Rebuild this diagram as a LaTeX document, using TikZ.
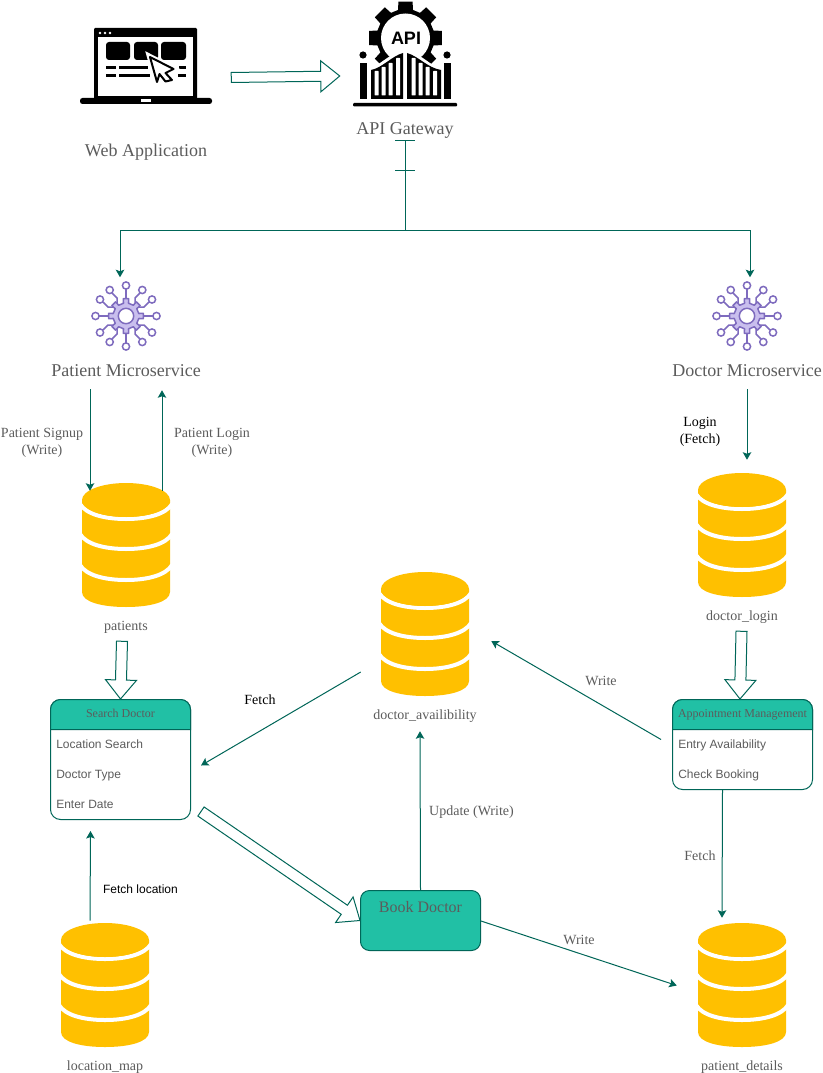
\documentclass[tikz,border=0pt]{standalone}
\usepackage{fontspec}
\setmainfont{Liberation Serif}
\setsansfont{Liberation Sans}
\usetikzlibrary{arrows.meta,calc}
\definecolor{tealline}{HTML}{006658}
\definecolor{tealfill}{HTML}{21C0A5}
\definecolor{greytext}{HTML}{5C5C5C}
\definecolor{dbyellow}{HTML}{FFC000}
\definecolor{msfill}{HTML}{C9BEEE}
\definecolor{msline}{HTML}{7E6BBE}
\def\px{0.75pt}
\tikzset{
  x=0.75pt,y=-0.75pt,
  conn/.style={draw=tealline,line width=1*\px},
  arr/.style={conn,-{Stealth[length=7.5*\px,width=8.5*\px,inset=1.5*\px]}},
  block/.style={draw=tealline,line width=1*\px,fill=white,line join=miter},
  txtbox/.style={inner sep=0pt,text height=0.68em,text depth=0.22em,yshift=-2*\px},
  lbl/.style={txtbox,text=greytext,align=center,font=\fontsize{10.5pt}{12.5pt}\selectfont},
  biglbl/.style={txtbox,yshift=-1*\px,text=greytext,align=center,font=\fontsize{13.5pt}{16pt}\selectfont},
  blacklbl/.style={txtbox,text=black,align=center,font=\fontsize{10.5pt}{12.5pt}\selectfont},
  item/.style={txtbox,yshift=1*\px,anchor=west,text=greytext,font=\sffamily\fontsize{9pt}{11pt}\selectfont},
  hdr/.style={txtbox,yshift=0.5*\px,text=greytext,font=\fontsize{9pt}{11pt}\selectfont},
  dbbox/.style={inner sep=0pt,minimum width=88*\px,minimum height=124*\px},
  lane/.style={draw=tealline,line width=1*\px,fill=white,rounded corners=10*\px,inner sep=0pt,minimum width=140*\px},
}
% database icon: #1 node name, #2 centre x, #3 top y
\newcommand\dbicon[3]{%
  \begin{scope}[shift={(#2,#3)}]
    \fill[dbyellow] (-44,17) -- (-44,109) .. controls (-44,119) and (-24,124) .. (0,124)
       .. controls (24,124) and (44,119) .. (44,109) -- (44,17) -- cycle;
    \foreach \s/\b in {21/36,51/66,82/97}{
      \draw[white,line width=4*\px] (-46,\s) .. controls (-40,\s+10) and (-22,\b) .. (0,\b)
         .. controls (22,\b) and (40,\s+10) .. (46,\s);
    }
    \fill[dbyellow] (0,17) ellipse [x radius=44,y radius=17];
    \node[dbbox] (#1) at (0,62) {};
  \end{scope}}
% microservice icon
\newcommand\msicon[3]{%
  \begin{scope}[shift={(#2,#3)},draw=msline,line width=1.5*\px]
    \foreach \a in {0,90,180,270}{
      \draw[rotate=\a] (14,0) -- (27,0);
      \draw[rotate=\a,fill=white] (30.5,0) circle (3.6);
    }
    \foreach \sx/\sy in {1/1,1/-1,-1/1,-1/-1}{
      \draw (\sx*9,\sy*13) -- (\sx*9,\sy*18) -- (\sx*14,\sy*23);
      \draw[fill=white] (\sx*16.3,\sy*26) circle (3.6);
      \draw (\sx*13,\sy*9) -- (\sx*18,\sy*9) -- (\sx*23,\sy*14);
      \draw[fill=white] (\sx*26,\sy*16.5) circle (3.6);
    }
    \draw[fill=msfill,line join=round] (-11:13)
      \foreach \k in {0,...,7}{ -- (\k*45-11:13) -- (\k*45-8.5:17.5) -- (\k*45+8.5:17.5) -- (\k*45+11:13) } -- cycle;
    \draw[fill=white] (0,0) circle (7.7);
    \node[inner sep=0pt,minimum size=48*\px] (#1) at (0,0) {};
  \end{scope}}
% hollow block arrow: tail, tip, half shaft width, half head width, head length (in px)
\newcommand\blockarrow[5]{%
  \coordinate (hb) at ($(#2)!#5*\px!(#1)$);
  \draw[block] ($(#1)!#3*\px!90:(#2)$) -- ($(hb)!#3*\px!90:(#2)$) -- ($(hb)!#4*\px!90:(#2)$)
     -- (#2) -- ($(hb)!#4*\px!-90:(#2)$) -- ($(hb)!#3*\px!-90:(#2)$) -- ($(#1)!#3*\px!-90:(#2)$) -- cycle;}
\begin{document}
\begin{tikzpicture}
\useasboundingbox[fill=white] (0,0) rectangle (823,1073);

% ---- laptop icon
\fill[black,rounded corners=1.2*\px] (94,28) rectangle (197,100);
\fill[white] (98,37) rectangle (193,96);
\fill[black,rounded corners=2.5*\px] (80,98) rectangle (212,104);
\fill[white] (141,99.5) rectangle (151,102);
\foreach \dx in {100,105,110}{\fill[white] (\dx,33) circle (1.3);}
\fill[black,rounded corners=3*\px] (106,42) rectangle (130,60);
\fill[black,rounded corners=3*\px] (134,42) rectangle (158,60);
\fill[black,rounded corners=3*\px] (161,42) rectangle (186,60);
\fill[black] (106,66) rectangle (116,69);
\fill[black] (119,66) rectangle (148,69);
\fill[black] (179,66) rectangle (186,69);
\fill[black] (106,74) rectangle (116,77);
\fill[black] (119,74) rectangle (150,77);
\fill[black] (178,74) rectangle (186,77);
\draw[black,fill=white,line width=2*\px,line join=round,preaction={draw=white,line width=6*\px}]
  (150,57) -- (173.5,69) -- (165.5,73) -- (172,80) -- (165.5,81.5) -- (159.5,74) -- (157,82) -- cycle;
\node[inner sep=0pt,minimum width=132*\px,minimum height=76*\px] (laptop) at (146,66) {};
\node[biglbl] (webapp) at (146,150) {Web Application};

% ---- API gateway icon
\begin{scope}[shift={(405.5,38)}]
  \fill[black] (-15:29)
    \foreach \k in {0,...,7}{ -- (\k*45-15:29) -- (\k*45-11:37) -- (\k*45+11:37) -- (\k*45+15:29) } -- cycle;
  \fill[white] (0,0) circle (24.5);
  \node[inner sep=0pt,font=\sffamily\bfseries\fontsize{13.5pt}{14pt}\selectfont] at (0.5,0) {API};
\end{scope}
\fill[white] (355,57) -- (374,67) .. controls (385,60) and (395,51) .. (405,50)
   .. controls (415,51) and (425,60) .. (436,67) -- (455,57) -- (455,102) -- (355,102) -- cycle;
\fill[black] (363,55) circle (3.6);
\fill[black] (447,55) circle (3.6);
\fill[black] (360,63) rectangle (367,99);
\fill[black] (443.5,63) rectangle (450.5,99);
\fill[black] (371,99) -- (371,70) .. controls (382,68) and (392,56) .. (403,53) -- (403,99) -- cycle;
\fill[black] (407,99) -- (407,53) .. controls (418,56) and (428,68) .. (441,70) -- (441,99) -- cycle;
\foreach \xa/\ya in {374.5/71,381.5/67,388.5/63,396/58}{\fill[white,rounded corners=0.5*\px] (\xa,\ya) rectangle (\xa+4,95.5);}
\foreach \xa/\ya in {411.5/58,418.5/63,425.5/67,433/71}{\fill[white,rounded corners=0.5*\px] (\xa,\ya) rectangle (\xa+4,95.5);}
\fill[black,rounded corners=1*\px] (353,103) rectangle (457,106.5);
\node[inner sep=0pt,minimum width=104*\px,minimum height=104*\px] (gateway) at (405,55) {};
\node[biglbl] (gwlabel) at (405,128) {API Gateway};

% ---- block arrow web app -> gateway
\coordinate (ba1s) at ($(laptop.east)+(19,11.5)$);
\coordinate (ba1e) at ($(gateway.west)+(-13,21)$);
\blockarrow{ba1s}{ba1e}{5}{15.5}{19}

% ---- gateway split
\coordinate (split) at ($(gwlabel.south)+(0,93)$);
\msicon{pms}{126}{316}
\msicon{dms}{747}{316}
\coordinate (ptop) at ($(pms.north)+(-6,-14)$);
\coordinate (dtop) at ($(dms.north)+(3,-14)$);
\draw[conn] ($(gwlabel.south)+(0,3)$) coordinate (gstart) -- (split);
\draw[conn] ($(gstart)+(-10,0)$) -- ($(gstart)+(10,0)$);
\draw[conn] ($(gstart)+(-10,30)$) -- ($(gstart)+(10,30)$);
\draw[arr] (split) -| (ptop);
\draw[arr] (split) -| (dtop);

\node[biglbl] (pmslabel) at (126,370) {Patient Microservice};
\node[biglbl] (dmslabel) at (747,370) {Doctor Microservice};

% ---- databases
\dbicon{dbpatients}{126}{483}
\dbicon{dblogin}{742}{473}
\dbicon{dbavail}{425}{572}
\dbicon{dbloc}{105}{923}
\dbicon{dbdetails}{742}{923}
\node[lbl] (lpatients) at (126,625) {patients};
\node[lbl] (llogin) at (742,615) {doctor\_login};
\node[lbl] (lavail) at (425,714) {doctor\_availibility};
\node[lbl] (lloc) at (105,1065) {location\_map};
\node[lbl] (ldetails) at (742,1065) {patient\_details};

% ---- search doctor lane
\node[lane,minimum height=120*\px] (search) at (120.5,759.5) {};
\draw[conn,fill=tealfill] (50.5,729.5) [rounded corners=10*\px] -- (50.5,699.5) -- (190.5,699.5) [sharp corners] -- (190.5,729.5) -- cycle;
\node[hdr] (searchh) at (120.5,713) {Search Doctor};
\node[item] (i1) at (56,744) {Location Search};
\node[item] (i2) at (56,774) {Doctor Type};
\node[item] (i3) at (56,804) {Enter Date};

% ---- appointment lane
\node[lane,minimum height=90*\px] (appt) at (742.5,744.5) {};
\draw[conn,fill=tealfill] (672.5,729.5) [rounded corners=10*\px] -- (672.5,699.5) -- (812.5,699.5) [sharp corners] -- (812.5,729.5) -- cycle;
\node[hdr] (appth) at (742.5,713) {Appointment Management};
\node[item] (i4) at (678,744) {Entry Availability};
\node[item] (i5) at (678,774) {Check Booking};

% ---- book doctor
\node[draw=tealline,line width=1*\px,fill=tealfill,rounded corners=9*\px,minimum width=120*\px,minimum height=60*\px,inner sep=0pt] (book) at (420.5,920.5) {};
\node[inner sep=0pt,text=greytext,font=\fontsize{12pt}{14pt}\selectfont] (bookt) at (420.5,907) {Book Doctor};

% ---- block arrows
\coordinate (ba2s) at ($(lpatients.south)+(-4,8)$);
\blockarrow{ba2s}{search.north}{5.5}{15.5}{19}
\coordinate (ba3s) at ($(llogin.south)+(-0.5,8)$);
\coordinate (ba3e) at ($(appt.north)+(-2.5,0)$);
\blockarrow{ba3s}{ba3e}{5.5}{15.5}{19}
\coordinate (ba4s) at ($(search.south east)+(10,-8.5)$);
\blockarrow{ba4s}{book.west}{5.5}{15.5}{19}

% ---- connectors
\draw[arr] ($(pmslabel.south)+(-36,10)$) -- ($(dbpatients.north)+(-36,8)$);
\draw[arr] ($(dbpatients.north)+(36,8)$) -- ($(pmslabel.south)+(36,11)$);
\draw[arr] ($(dmslabel.south)+(0,10)$) -- ($(dblogin.north)+(5,-13)$);
\draw[arr] ($(dbavail.west)+(-20,38)$) -- ($(search.east)+(10,6)$);
\draw[arr] ($(appt.west)+(-11,-5)$) -- ($(dbavail.east)+(22,7)$);
\draw[arr] (book.north) -- ($(lavail.south)+(-5,9)$);
\draw[arr] ($(appt.south)+(-20,0)$) -- ($(dbdetails.north)+(-20,-5)$);
\draw[arr] ($(book.east)+(0,0.5)$) -- ($(dbdetails.west)+(-21,0.5)$);
\draw[arr] ($(dbloc.north)+(-15,-2)$) -- ($(search.south)+(-30,11)$);

% ---- connector labels
\node[lbl] (t1) at (42,449) {Patient Signup\\(Write)};
\node[lbl] (t2) at (212,449) {Patient Login\\(Write)};
\node[blacklbl] (t3) at (700,438) {Login\\(Fetch)};
\node[blacklbl] (t4) at (260,699) {Fetch};
\node[lbl] (t5) at (601,680) {Write};
\node[lbl] (t6) at (471.5,810) {Update (Write)};
\node[lbl] (t7) at (700,855) {Fetch};
\node[lbl] (t8) at (579,939) {Write};
\node[item,anchor=center,text=black] (t9) at (140.5,889) {Fetch location};
\end{tikzpicture}
\end{document}
